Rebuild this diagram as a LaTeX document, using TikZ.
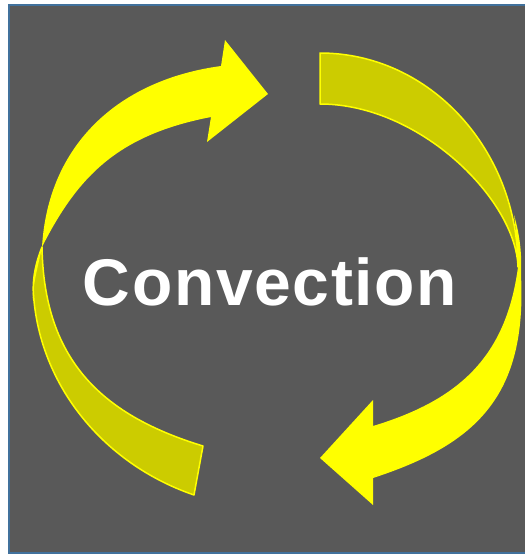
\documentclass[tikz,border=0pt]{standalone}
\usepackage{fontspec}
\usepackage{tikz}
\newfontfamily\convfont{Liberation Sans}[LetterSpace=2.5]
\definecolor{slidegray}{RGB}{89,89,89}
\definecolor{framblue}{RGB}{65,113,156}
\definecolor{brightyel}{RGB}{255,255,0}
\definecolor{darkyel}{RGB}{204,204,0}

\begin{document}
\begin{tikzpicture}[x=1pt, y=-1pt,
    front/.style={fill=brightyel},
    back/.style={fill=darkyel, draw=brightyel, line width=1.5pt, line join=round}]
    % Canvas
    \useasboundingbox (0,0) rectangle (525,555);
    \fill[white] (0,0) rectangle (525,555);
    \filldraw[fill=slidegray, draw=framblue, line width=2pt] (9,4.5) rectangle (540,553);

    % Twist points
    \coordinate (twistL) at (42,247);
    \coordinate (twistR) at (518,267);

    % Back half, lower left
    \filldraw[back] (twistL) .. controls (36,262) and (33,276) .. (33.2,290)
        .. controls (37.5,382) and (101,463) .. (194,495) -- (203,446)
        .. controls (98,414) and (44,357) .. (twistL) -- cycle;

    % Back half, upper right
    \filldraw[back] (320,53) .. controls (430,53) and (518,150) .. (twistR)
        .. controls (516,200) and (420,104) .. (320,104) -- cycle;

    % Front arrow, upper left
    \fill[front] (32,300) .. controls (34,280) and (39,262) .. (twistL)
        .. controls (48,145) and (118,80) .. (221,66)
        -- (225,40) -- (268,94) -- (207,142) -- (211,117)
        .. controls (118,135) and (78,176) .. (twistL)
        .. controls (36,262) and (33,276) .. (33.2,290) -- cycle;

    % Front arrow, lower right
    \fill[front] (514,215) .. controls (520,235) and (522,255) .. (521,275)
        .. controls (527,395) and (477.5,444) .. (373,478)
        -- (373,505) -- (320,458) -- (373,400) -- (373,426)
        .. controls (459,400) and (506,357) .. (twistR)
        .. controls (517,245) and (516,230) .. cycle;

    % Label
    \node[anchor=base, text=white, inner sep=0pt, font=\convfont\bfseries\fontsize{66}{70}\selectfont] (label) at (270,305) {Convection};
\end{tikzpicture}
\end{document}
